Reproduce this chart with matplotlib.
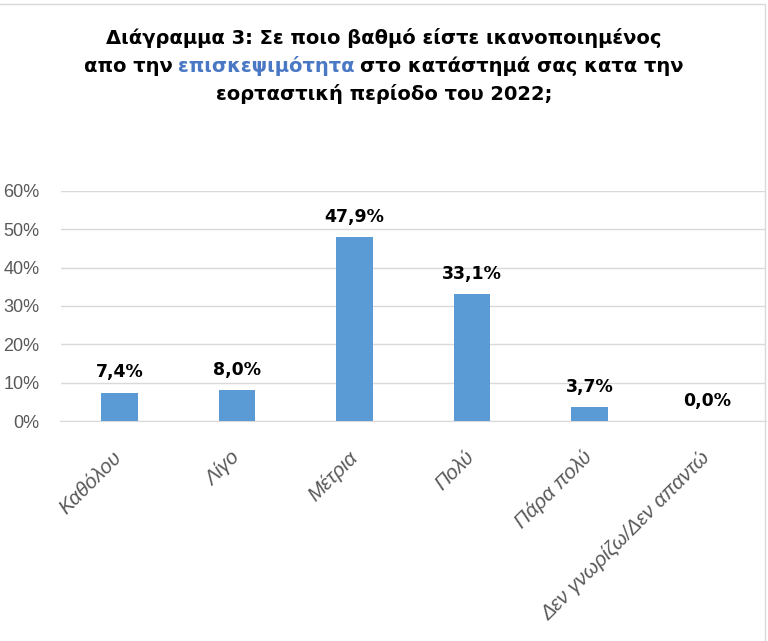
import matplotlib
matplotlib.use("Agg")
import matplotlib.pyplot as plt
import matplotlib.patches as patches
import numpy as np

categories = ["Καθόλου", "Λίγο", "Μέτρια", "Πολύ", "Πάρα πολύ", "Δεν γνωρίζω/Δεν απαντώ"]
values = [7.4, 8.0, 47.9, 33.1, 3.7, 0.0]
yticks = [0, 10, 20, 30, 40, 50, 60]
title_line1 = "Διάγραμμα 3: Σε ποιο βαθμό είστε ικανοποιημένος"
title_line2 = ["απο την", "επισκεψιμότητα", "στο κατάστημά σας κατα την"]
title_line3 = "εορταστική περίοδο του 2022;"

BAR = "#5b9bd5"
GRID = "#d9d9d9"
TICK = "#595959"
BLUE = "#4a78c4"

title_font = ["DejaVu Sans"]
plt.rcParams["font.family"] = ["Liberation Sans", "DejaVu Sans"]

W, H = 768, 641
fig = plt.figure(figsize=(W / 100, H / 100), dpi=100)
ax = fig.add_axes([60.5 / W, 1 - 421 / H, (766 - 60.5) / W, (421 - 191) / H])

x = np.arange(len(categories))
ax.bar(x, values, width=0.31, color=BAR, zorder=3)
for i, v in enumerate(values):
    ax.annotate(f"{v:.1f}%".replace(".", ","), (i, v), xytext=(0, 14.5),
                textcoords="offset points", ha="center", va="center",
                fontsize=12.5, fontweight="bold", family=title_font, color="black")

ax.set_xlim(-0.5, len(categories) - 0.5)
ax.set_ylim(0, 60)
ax.set_yticks(yticks)
ax.set_yticklabels([f"{t}%" for t in yticks], color=TICK, fontsize=13)
ax.grid(axis="y", color=GRID, lw=1, zorder=0)
for s in ["top", "right", "left"]:
    ax.spines[s].set_visible(False)
ax.spines["bottom"].set_color(GRID)
ax.tick_params(axis="both", length=0)
ax.tick_params(axis="y", pad=15)
ax.set_xticks(x)
ax.set_xticklabels(categories, rotation=45, ha="right", va="center",
                   rotation_mode="anchor", fontsize=14.7, style="italic", color=TICK)
ax.tick_params(axis="x", pad=24)

# title
tkw = dict(fontsize=14, fontweight="bold", family=title_font, va="baseline")
fig.text(0.5, 1 - 44 / H, title_line1, ha="center", **tkw)
fig.text(0.5, 1 - 100 / H, title_line3, ha="center", **tkw)

fig.canvas.draw()
r = fig.canvas.get_renderer()


def text_w(s):
    t = fig.text(0, 0, s, **tkw)
    w = t.get_window_extent(r).width
    t.remove()
    return w


space = 0.8 * (text_w("α α") - text_w("αα"))
widths = [text_w(p) for p in title_line2]
total = sum(widths) + space * (len(widths) - 1)
px = 383.5 - total / 2
colors = ["black", BLUE, "black"]
for p, w, c in zip(title_line2, widths, colors):
    fig.text(px / W, 1 - 72 / H, p, ha="left", color=c, **tkw)
    px += w + space

# chart frame
fig.patches.append(patches.Rectangle((-0.01, -0.01), 765.5 / W + 0.01, 1 - 4 / H + 0.01,
                                     transform=fig.transFigure, fill=False,
                                     edgecolor=GRID, lw=1))

fig.savefig("out.png", dpi=100)
